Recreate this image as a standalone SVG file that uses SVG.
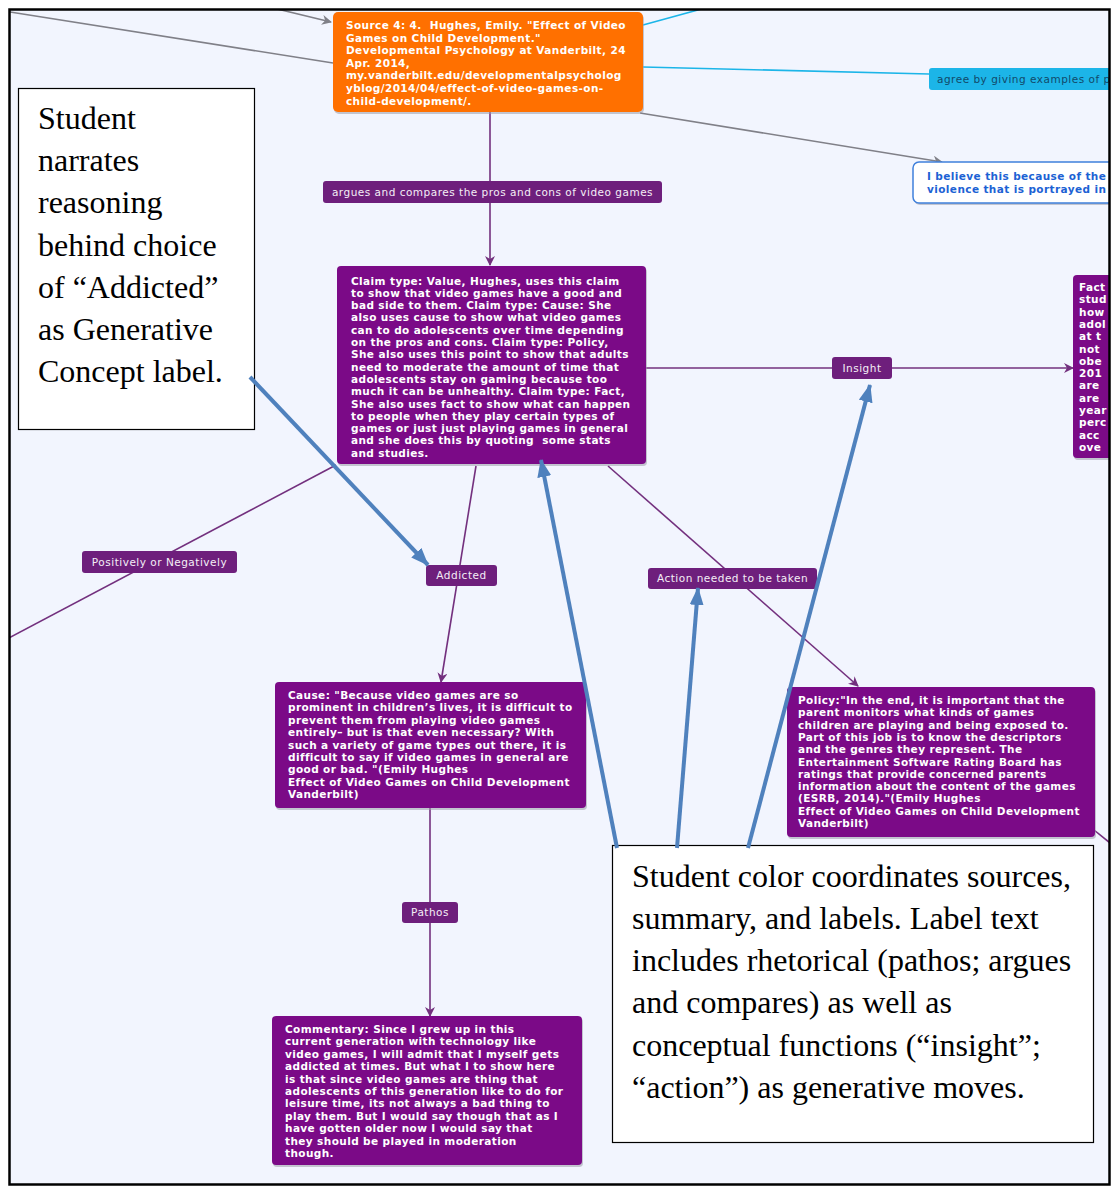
<svg xmlns="http://www.w3.org/2000/svg" width="1112" height="1188" viewBox="0 0 1112 1188">
  <defs>
    <style>
      .bg { fill: #f2f5fe; }
      .frame { fill: none; stroke: #000; stroke-width: 2.5; }
      .node { fill: #7b0a87; }
      .shadow { fill: #9a9aa8; opacity: 0.55; }
      .lbl { fill: #6e1f7c; }
      .ntext { font-family: "DejaVu Sans", Verdana, sans-serif; font-weight: bold; font-size: 10.5px; letter-spacing: 0.4px; fill: #ffffff; white-space: pre; }
      .ltext { font-family: "DejaVu Sans", Verdana, sans-serif; font-size: 10.5px; letter-spacing: 0.5px; fill: #f4eef6; }
      .conn { fill: none; stroke: #73307e; stroke-width: 1.6; }
      .gray { fill: none; stroke: #808088; stroke-width: 1.6; }
      .cyan { fill: none; stroke: #1cb5e8; stroke-width: 1.6; }
      .note { fill: #ffffff; stroke: #000; stroke-width: 1.2; }
      .ntxt { font-family: "Liberation Serif", "Times New Roman", serif; font-size: 32px; fill: #000; }
      .callout { fill: none; stroke: #4f81bd; stroke-width: 4; }
    </style>
    <marker id="arrP" viewBox="0 0 10 10" refX="9" refY="5" markerWidth="10" markerHeight="10" markerUnits="userSpaceOnUse" orient="auto">
      <path d="M0,0 L10,5 L0,10 L3,5 Z" fill="#73307e"/>
    </marker>
    <marker id="arrG" viewBox="0 0 10 10" refX="9" refY="5" markerWidth="10" markerHeight="10" markerUnits="userSpaceOnUse" orient="auto">
      <path d="M0,0 L10,5 L0,10 L3,5 Z" fill="#808088"/>
    </marker>
    <marker id="arrB" viewBox="0 0 18 14" refX="17" refY="7" markerWidth="18" markerHeight="14" markerUnits="userSpaceOnUse" orient="auto">
      <path d="M0,0 L18,7 L0,14 Z" fill="#4f81bd"/>
    </marker>
    <clipPath id="frameClip">
      <rect x="10" y="10" width="1099" height="1174"/>
    </clipPath>
  </defs>

  <rect x="0" y="0" width="1112" height="1188" fill="#ffffff"/>
  <rect class="bg" x="10" y="10" width="1099" height="1174"/>

  <g clip-path="url(#frameClip)">
    <!-- connectors -->
    <g id="connectors">
      <line class="gray" x1="10" y1="12" x2="333" y2="63"/>
      <line class="gray" x1="240" y1="0" x2="331" y2="22" marker-end="url(#arrG)"/>
      <line class="cyan" x1="643" y1="25" x2="705" y2="8"/>
      <line class="cyan" x1="643" y1="67" x2="929" y2="74"/>
      <line class="gray" x1="640" y1="113" x2="942" y2="162" marker-end="url(#arrG)"/>
      <line class="conn" x1="490" y1="112" x2="490" y2="265" marker-end="url(#arrP)"/>
      <line class="conn" x1="646" y1="368" x2="1073" y2="368" marker-end="url(#arrP)"/>
      <line class="conn" x1="336" y1="465" x2="5" y2="640"/>
      <line class="conn" x1="476" y1="466" x2="441" y2="682" marker-end="url(#arrP)"/>
      <line class="conn" x1="608" y1="466" x2="858" y2="686" marker-end="url(#arrP)"/>
      <line class="conn" x1="430" y1="808" x2="430" y2="1016" marker-end="url(#arrP)"/>
      <line class="conn" x1="1094" y1="830" x2="1115" y2="847"/>
    </g>

    <!-- source node -->
    <g id="source">
      <rect class="shadow" x="334" y="14" width="310" height="100" rx="5"/>
      <rect x="333" y="12" width="310" height="100" rx="5" fill="#ff7000"/>
      <text class="ntext">
        <tspan x="346" y="29">Source 4: 4.  Hughes, Emily. "Effect of Video</tspan>
        <tspan x="346" y="41.6">Games on Child Development."</tspan>
        <tspan x="346" y="54.2">Developmental Psychology at Vanderbilt, 24</tspan>
        <tspan x="346" y="66.8">Apr. 2014,</tspan>
        <tspan x="346" y="79.4">my.vanderbilt.edu/developmentalpsycholog</tspan>
        <tspan x="346" y="92">yblog/2014/04/effect-of-video-games-on-</tspan>
        <tspan x="346" y="104.6">child-development/.</tspan>
      </text>
    </g>

    <!-- agree node -->
    <g id="agree">
      <rect x="929" y="68" width="200" height="22" rx="3" fill="#1cb5e8"/>
      <text class="ltext" x="937" y="82.5" style="fill:#124a6a">agree by giving examples of p</text>
    </g>

    <!-- belief node -->
    <g id="belief">
      <rect class="shadow" x="914" y="164" width="220" height="41" rx="6"/>
      <rect x="913" y="162" width="220" height="41" rx="6" fill="#ffffff" stroke="#3f80dc" stroke-width="1.5"/>
      <text class="ntext" style="fill:#1c62d4">
        <tspan x="927" y="180">I believe this because of the</tspan>
        <tspan x="927" y="192.5">violence that is portrayed in</tspan>
      </text>
    </g>

    <!-- argues label -->
    <g id="label-argues">
      <rect class="lbl" x="323" y="181" width="339" height="22" rx="3"/>
      <text class="ltext" x="492.5" y="195.5" text-anchor="middle">argues and compares the pros and cons of video games</text>
    </g>

    <!-- claim node -->
    <g id="claims">
      <rect class="shadow" x="338" y="268" width="309" height="198" rx="4"/>
      <rect class="node" x="337" y="266" width="309" height="198" rx="4"/>
      <text class="ntext">
        <tspan x="351" y="284.5">Claim type: Value, Hughes, uses this claim</tspan>
        <tspan x="351" y="296.8">to show that video games have a good and</tspan>
        <tspan x="351" y="309.1">bad side to them. Claim type: Cause: She</tspan>
        <tspan x="351" y="321.4">also uses cause to show what video games</tspan>
        <tspan x="351" y="333.7">can to do adolescents over time depending</tspan>
        <tspan x="351" y="346">on the pros and cons. Claim type: Policy,</tspan>
        <tspan x="351" y="358.3">She also uses this point to show that adults</tspan>
        <tspan x="351" y="370.6">need to moderate the amount of time that</tspan>
        <tspan x="351" y="382.9">adolescents stay on gaming because too</tspan>
        <tspan x="351" y="395.2">much it can be unhealthy. Claim type: Fact,</tspan>
        <tspan x="351" y="407.5">She also uses fact to show what can happen</tspan>
        <tspan x="351" y="419.8">to people when they play certain types of</tspan>
        <tspan x="351" y="432.1">games or just just playing games in general</tspan>
        <tspan x="351" y="444.4">and she does this by quoting  some stats</tspan>
        <tspan x="351" y="456.7">and studies.</tspan>
      </text>
    </g>

    <!-- insight label -->
    <g id="label-insight">
      <rect class="lbl" x="832" y="357" width="60" height="22" rx="3"/>
      <text class="ltext" x="862" y="372" text-anchor="middle">Insight</text>
    </g>

    <!-- fact node (runs past the edge) -->
    <g id="fact">
      <rect class="shadow" x="1074" y="277" width="60" height="183" rx="4"/>
      <rect class="node" x="1073" y="275" width="60" height="183" rx="4"/>
      <text class="ntext">
        <tspan x="1079" y="291">Fact</tspan>
        <tspan x="1079" y="303.3">stud</tspan>
        <tspan x="1079" y="315.6">how</tspan>
        <tspan x="1079" y="327.9">adol</tspan>
        <tspan x="1079" y="340.2">at t</tspan>
        <tspan x="1079" y="352.5">not</tspan>
        <tspan x="1079" y="364.8">obe</tspan>
        <tspan x="1079" y="377.1">201</tspan>
        <tspan x="1079" y="389.4">are</tspan>
        <tspan x="1079" y="401.7">are</tspan>
        <tspan x="1079" y="414">year</tspan>
        <tspan x="1079" y="426.3">perc</tspan>
        <tspan x="1079" y="438.6">acc</tspan>
        <tspan x="1079" y="450.9">ove</tspan>
      </text>
    </g>

    <!-- lower labels -->
    <g id="label-positively">
      <rect class="lbl" x="82" y="551" width="155" height="22" rx="3"/>
      <text class="ltext" x="159.5" y="565.5" text-anchor="middle">Positively or Negatively</text>
    </g>
    <g id="label-addicted">
      <rect class="lbl" x="426" y="565" width="71" height="21" rx="3"/>
      <text class="ltext" x="461.5" y="579" text-anchor="middle">Addicted</text>
    </g>
    <g id="label-action">
      <rect class="lbl" x="648" y="568" width="169" height="21" rx="3"/>
      <text class="ltext" x="732.5" y="582" text-anchor="middle">Action needed to be taken</text>
    </g>

    <!-- cause node -->
    <g id="cause">
      <rect class="shadow" x="276" y="684" width="311" height="126" rx="4"/>
      <rect class="node" x="275" y="682" width="311" height="126" rx="4"/>
      <text class="ntext">
        <tspan x="288" y="699">Cause: "Because video games are so</tspan>
        <tspan x="288" y="711.4">prominent in children’s lives, it is difficult to</tspan>
        <tspan x="288" y="723.8">prevent them from playing video games</tspan>
        <tspan x="288" y="736.2">entirely– but is that even necessary? With</tspan>
        <tspan x="288" y="748.6">such a variety of game types out there, it is</tspan>
        <tspan x="288" y="761">difficult to say if video games in general are</tspan>
        <tspan x="288" y="773.4">good or bad. "(Emily Hughes</tspan>
        <tspan x="288" y="785.8">Effect of Video Games on Child Development</tspan>
        <tspan x="288" y="798.2">Vanderbilt)</tspan>
      </text>
    </g>

    <!-- policy node -->
    <g id="policy">
      <rect class="shadow" x="788" y="689" width="308" height="150" rx="4"/>
      <rect class="node" x="787" y="687" width="308" height="150" rx="4"/>
      <text class="ntext">
        <tspan x="798" y="704">Policy:"In the end, it is important that the</tspan>
        <tspan x="798" y="716.3">parent monitors what kinds of games</tspan>
        <tspan x="798" y="728.6">children are playing and being exposed to.</tspan>
        <tspan x="798" y="740.9">Part of this job is to know the descriptors</tspan>
        <tspan x="798" y="753.2">and the genres they represent. The</tspan>
        <tspan x="798" y="765.5">Entertainment Software Rating Board has</tspan>
        <tspan x="798" y="777.8">ratings that provide concerned parents</tspan>
        <tspan x="798" y="790.1">information about the content of the games</tspan>
        <tspan x="798" y="802.4">(ESRB, 2014)."(Emily Hughes</tspan>
        <tspan x="798" y="814.7">Effect of Video Games on Child Development</tspan>
        <tspan x="798" y="827">Vanderbilt)</tspan>
      </text>
    </g>

    <!-- pathos label -->
    <g id="label-pathos">
      <rect class="lbl" x="402" y="902" width="56" height="21" rx="3"/>
      <text class="ltext" x="430" y="916" text-anchor="middle">Pathos</text>
    </g>

    <!-- commentary node -->
    <g id="commentary">
      <rect class="shadow" x="273" y="1018" width="310" height="149" rx="4"/>
      <rect class="node" x="272" y="1016" width="310" height="149" rx="4"/>
      <text class="ntext">
        <tspan x="285" y="1033">Commentary: Since I grew up in this</tspan>
        <tspan x="285" y="1045.4">current generation with technology like</tspan>
        <tspan x="285" y="1057.8">video games, I will admit that I myself gets</tspan>
        <tspan x="285" y="1070.2">addicted at times. But what I to show here</tspan>
        <tspan x="285" y="1082.6">is that since video games are thing that</tspan>
        <tspan x="285" y="1095">adolescents of this generation like to do for</tspan>
        <tspan x="285" y="1107.4">leisure time, its not always a bad thing to</tspan>
        <tspan x="285" y="1119.8">play them. But I would say though that as I</tspan>
        <tspan x="285" y="1132.2">have gotten older now I would say that</tspan>
        <tspan x="285" y="1144.6">they should be played in moderation</tspan>
        <tspan x="285" y="1157">though.</tspan>
      </text>
    </g>

    <!-- annotation notes -->
    <g id="note-addicted">
      <rect class="note" x="18.5" y="88.5" width="236" height="341"/>
      <text class="ntxt">
        <tspan x="38" y="129">Student</tspan>
        <tspan x="38" y="171">narrates</tspan>
        <tspan x="38" y="213">reasoning</tspan>
        <tspan x="38" y="256">behind choice</tspan>
        <tspan x="38" y="298">of “Addicted”</tspan>
        <tspan x="38" y="340">as Generative</tspan>
        <tspan x="38" y="382">Concept label.</tspan>
      </text>
    </g>

    <g id="note-colors">
      <rect class="note" x="612.5" y="845.5" width="481" height="297"/>
      <text class="ntxt">
        <tspan x="632" y="887">Student color coordinates sources,</tspan>
        <tspan x="632" y="929">summary, and labels. Label text</tspan>
        <tspan x="632" y="971">includes rhetorical (pathos; argues</tspan>
        <tspan x="632" y="1013">and compares) as well as</tspan>
        <tspan x="632" y="1056">conceptual functions (“insight”;</tspan>
        <tspan x="632" y="1098">“action”) as generative moves.</tspan>
      </text>
    </g>

    <!-- annotation arrows -->
    <g id="annotation-arrows">
      <line class="callout" x1="250" y1="377" x2="428" y2="565" marker-end="url(#arrB)"/>
      <line class="callout" x1="617" y1="848" x2="541" y2="460" marker-end="url(#arrB)"/>
      <line class="callout" x1="677" y1="848" x2="698" y2="588" marker-end="url(#arrB)"/>
      <line class="callout" x1="748" y1="848" x2="870" y2="385" marker-end="url(#arrB)"/>
    </g>
  </g>

  <rect class="frame" x="9.5" y="9.5" width="1100" height="1175"/>
</svg>
